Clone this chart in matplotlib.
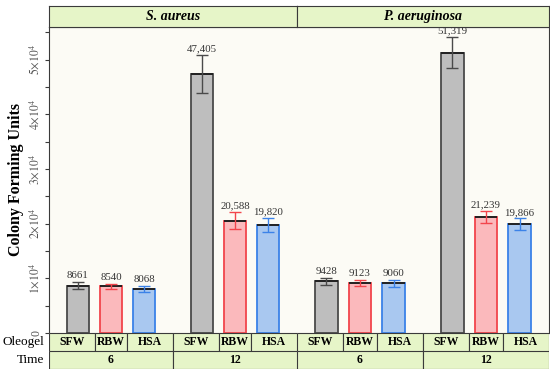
import matplotlib
matplotlib.use('Agg')
import matplotlib.pyplot as plt

# dados
bacterias = ['S. aureus', 'P. aeruginosa']
oleogeis = ['SFW', 'RBW', 'HSA']
tempos = ['6', '12']

media_sa = [8661, 8540, 8068, 47405, 20588, 19820]
erro_sa = [700, 450, 600, 3400, 1600, 1300]
media_pa = [9428, 9123, 9060, 51319, 21239, 19866]
erro_pa = [700, 580, 650, 2900, 1150, 1100]

cor_fundo = ['#BEBEBE', '#FBB9BC', '#A9C8F0']
cor_borda = ['#4A4A4A', '#F2454C', '#3B82E8']
verde = '#E6F5C8'
linha = '#3A3A3A'

plt.rcParams['font.family'] = ['Liberation Serif', 'DejaVu Serif']
plt.rcParams['mathtext.fontset'] = 'stix'

fig = plt.figure(figsize=(5.5, 3.75), dpi=100)

# posições das barras (2 grupos de 3)
gap = 3.76
xs = [i + g * gap for g in range(2) for i in range(3)]
x0, x1 = -0.88, 2 + gap + 0.88
largura = 0.67

L, R, meio = 49 / 550, 549 / 550, 297 / 550
bot, top = 1 - 333 / 375, 1 - 27 / 375
strip_top = 1 - 6 / 375
ole_bot = 1 - 351 / 375
time_bot = 1 - 369 / 375


def formata(v):
    return f'{v:,}' if v >= 10000 else str(v)


def tick_fmt(v):
    if v == 0:
        return '0'
    return r'$%d{\times}10^4$' % int(v / 10000)


for k, (nome, medias, erros) in enumerate([(bacterias[0], media_sa, erro_sa),
                                           (bacterias[1], media_pa, erro_pa)]):
    esq = L if k == 0 else meio
    dir_ = meio if k == 0 else R
    w = dir_ - esq

    ax = fig.add_axes([esq, bot, w, top - bot])
    ax.set_facecolor('#FCFBF5')
    ax.set_xlim(x0, x1)
    ax.set_ylim(0, 56000)

    for i, (x, m, e) in enumerate(zip(xs, medias, erros)):
        c = i % 3
        ax.bar(x, m, width=largura, color=cor_fundo[c], edgecolor=cor_borda[c],
               linewidth=1.3, zorder=2)
        ax.hlines(m, x - largura / 2, x + largura / 2, color='#222222', linewidth=1.4, zorder=3)
        ax.errorbar(x, m, yerr=e, color=cor_borda[c], capsize=4, elinewidth=1,
                    capthick=1, zorder=4)
        ax.text(x, m + e + 300, formata(m), ha='center', va='bottom',
                fontsize=7.8, color='#333333', zorder=5)

    ax.set_xticks([])
    for s in ax.spines.values():
        s.set_color(linha)
        s.set_linewidth(0.8)
    if k == 0:
        ticks = list(range(0, 60000, 5000))
        ax.set_yticks(ticks)
        ax.set_yticklabels([tick_fmt(t) if t % 10000 == 0 else '' for t in ticks],
                           rotation=90, va='center', fontsize=8.5, color='#555555')
        ax.tick_params(axis='y', length=3, color=linha, pad=2)
        ax.set_ylabel('Colony Forming Units', fontsize=11.5, fontweight='bold', labelpad=3)
        ax.spines['right'].set_visible(False)
    else:
        ax.set_yticks([])
        ax.spines['left'].set_visible(False)

    # faixa do título
    st = fig.add_axes([esq, top, w, strip_top - top])
    st.set_facecolor(verde)
    st.set_xticks([])
    st.set_yticks([])
    for s in st.spines.values():
        s.set_color(linha)
        s.set_linewidth(0.8)
    st.text(0.5, 0.5, nome, transform=st.transAxes, ha='center', va='center',
            fontsize=10, fontweight='bold', style='italic')

    # linhas da tabela: Oleogel e Time
    oa = fig.add_axes([esq, ole_bot, w, bot - ole_bot])
    ta = fig.add_axes([esq, time_bot, w, ole_bot - time_bot])
    for a in (oa, ta):
        a.set_xlim(x0, x1)
        a.set_ylim(0, 1)
        a.set_xticks([])
        a.set_yticks([])
        for s in a.spines.values():
            s.set_visible(False)

    limites = [x0, 0.5, 1.5, 1 + gap / 2, 0.5 + gap, 1.5 + gap, x1]
    for j in range(6):
        oa.axvspan(limites[j], limites[j + 1], facecolor=verde, edgecolor=linha, linewidth=0.8)
        oa.text((limites[j] + limites[j + 1]) / 2, 0.5, oleogeis[j % 3], ha='center',
                va='center', fontsize=8.5, fontweight='bold')
    for g in range(2):
        a0, a1 = limites[g * 3], limites[g * 3 + 3]
        ta.axvspan(a0, a1, facecolor=verde, edgecolor=linha, linewidth=0.8)
        ta.text((a0 + a1) / 2, 0.5, tempos[g], ha='center', va='center',
                fontsize=8.5, fontweight='bold')

fig.text(L - 5 / 550, (bot + ole_bot) / 2, 'Oleogel', ha='right', va='center', fontsize=9.5)
fig.text(L - 5 / 550, (ole_bot + time_bot) / 2, 'Time', ha='right', va='center', fontsize=9.5)

plt.savefig('out.png', dpi=100)
plt.close()
